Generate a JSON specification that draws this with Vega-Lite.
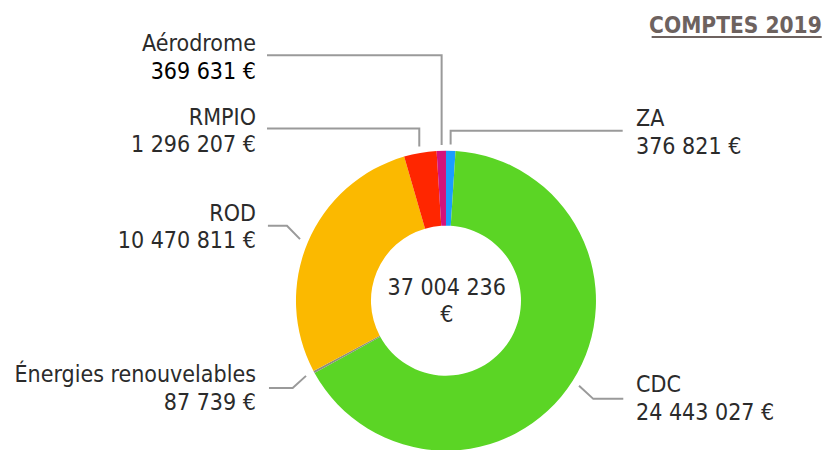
{
  "$schema": "https://vega.github.io/schema/vega-lite/v6.json",
  "width": 824,
  "height": 450,
  "padding": 0,
  "autosize": {"type": "fit", "contains": "padding"},
  "background": "#ffffff",
  "config": {
    "view": {"stroke": null},
    "locale": {"number": {"decimal": ",", "thousands": " ", "grouping": [3], "currency": ["", " €"]}},
    "text": {"font": "DejaVu Sans Condensed, DejaVu Sans, Open Sans", "fontSize": 23, "color": "#2b2b2b"}
  },
  "datasets": {
    "budget": [
      {"poste": "ZA", "montant": 376821, "rang": 1},
      {"poste": "CDC", "montant": 24443027, "rang": 2},
      {"poste": "Énergies renouvelables", "montant": 87739, "rang": 3},
      {"poste": "ROD", "montant": 10470811, "rang": 4},
      {"poste": "RMPIO", "montant": 1296207, "rang": 5},
      {"poste": "Aérodrome", "montant": 369631, "rang": 6}
    ],
    "etiquettes": [
      {"poste": "Aérodrome", "lx": -1.267, "ly": 1.682},
      {"poste": "RMPIO", "lx": -1.267, "ly": 1.187},
      {"poste": "ZA", "lx": 1.267, "ly": 1.178},
      {"poste": "ROD", "lx": -1.267, "ly": 0.538},
      {"poste": "Énergies renouvelables", "lx": -1.267, "ly": -0.551},
      {"poste": "CDC", "lx": 1.267, "ly": -0.613}
    ],
    "traits": [
      {"poste": "Aérodrome", "i": 0, "x": -1.193, "y": 1.655},
      {"poste": "Aérodrome", "i": 1, "x": -0.029, "y": 1.655},
      {"poste": "Aérodrome", "i": 2, "x": -0.029, "y": 1.049},
      {"poste": "RMPIO", "i": 0, "x": -1.193, "y": 1.16},
      {"poste": "RMPIO", "i": 1, "x": -0.178, "y": 1.16},
      {"poste": "RMPIO", "i": 2, "x": -0.178, "y": 1.04},
      {"poste": "ZA", "i": 0, "x": 0.031, "y": 1.053},
      {"poste": "ZA", "i": 1, "x": 0.031, "y": 1.145},
      {"poste": "ZA", "i": 2, "x": 1.178, "y": 1.145},
      {"poste": "ROD", "i": 0, "x": -1.187, "y": 0.505},
      {"poste": "ROD", "i": 1, "x": -1.06, "y": 0.505},
      {"poste": "ROD", "i": 2, "x": -0.973, "y": 0.415},
      {"poste": "Énergies renouvelables", "i": 0, "x": -1.18, "y": -0.589},
      {"poste": "Énergies renouvelables", "i": 1, "x": -1.022, "y": -0.589},
      {"poste": "Énergies renouvelables", "i": 2, "x": -0.933, "y": -0.507},
      {"poste": "CDC", "i": 0, "x": 0.887, "y": -0.573},
      {"poste": "CDC", "i": 1, "x": 0.982, "y": -0.662},
      {"poste": "CDC", "i": 2, "x": 1.182, "y": -0.662}
    ],
    "titre": [
      {"texte": "COMPTES 2019", "x": 2.505, "y": 1.805, "x1": 1.371, "y1": 1.778}
    ],
    "total": [
      {"texte": "37 004 236", "x": 0.005, "y": 0.038},
      {"texte": "€", "x": 0.005, "y": -0.147}
    ]
  },
  "layer": [
    {
      "data": {"name": "budget"},
      "mark": {"type": "arc", "outerRadius": 150, "innerRadius": 75},
      "encoding": {
        "x": {"datum": 0, "type": "quantitative", "scale": {"domain": [-2.973, 2.52], "nice": false, "zero": false}, "axis": null},
        "y": {"datum": 0, "type": "quantitative", "scale": {"domain": [-0.973, 2.027], "nice": false, "zero": false}, "axis": null},
        "theta": {"field": "montant", "type": "quantitative", "stack": true},
        "order": {"field": "rang", "type": "quantitative"},
        "color": {
          "field": "poste", "type": "nominal", "legend": null,
          "scale": {
            "domain": ["ZA", "CDC", "Énergies renouvelables", "ROD", "RMPIO", "Aérodrome"],
            "range": ["#1a9dff", "#5bd525", "#8c9180", "#fbb900", "#ff2600", "#d3137c"]
          }
        }
      }
    },
    {
      "data": {"name": "traits"},
      "mark": {"type": "line", "color": "#9a9a9a", "strokeWidth": 2},
      "encoding": {
        "x": {"field": "x", "type": "quantitative"},
        "y": {"field": "y", "type": "quantitative"},
        "detail": {"field": "poste"},
        "order": {"field": "i", "type": "quantitative"}
      }
    },
    {
      "data": {"name": "budget"},
      "transform": [
        {"lookup": "poste", "from": {"data": {"name": "etiquettes"}, "key": "poste", "fields": ["lx", "ly"]}},
        {"filter": {"not": {"field": "poste", "oneOf": ["ZA", "CDC"]}}}
      ],
      "layer": [
        {
          "mark": {"type": "text", "align": "right", "baseline": "alphabetic"},
          "encoding": {
            "x": {"field": "lx", "type": "quantitative"},
            "y": {"field": "ly", "type": "quantitative"},
            "text": {"field": "poste"}
          }
        },
        {
          "mark": {"type": "text", "align": "right", "baseline": "alphabetic", "dy": 27.5},
          "encoding": {
            "x": {"field": "lx", "type": "quantitative"},
            "y": {"field": "ly", "type": "quantitative"},
            "text": {"field": "montant", "type": "quantitative", "format": "$,.0f"},
            "color": {"condition": {"test": "datum.poste === 'Aérodrome'", "value": "#000000"}, "value": "#2b2b2b"}
          }
        }
      ]
    },
    {
      "data": {"name": "budget"},
      "transform": [
        {"lookup": "poste", "from": {"data": {"name": "etiquettes"}, "key": "poste", "fields": ["lx", "ly"]}},
        {"filter": {"field": "poste", "oneOf": ["ZA", "CDC"]}}
      ],
      "layer": [
        {
          "mark": {"type": "text", "align": "left", "baseline": "alphabetic"},
          "encoding": {
            "x": {"field": "lx", "type": "quantitative"},
            "y": {"field": "ly", "type": "quantitative"},
            "text": {"field": "poste"}
          }
        },
        {
          "mark": {"type": "text", "align": "left", "baseline": "alphabetic", "dy": 28.5},
          "encoding": {
            "x": {"field": "lx", "type": "quantitative"},
            "y": {"field": "ly", "type": "quantitative"},
            "text": {"field": "montant", "type": "quantitative", "format": "$,.0f"}
          }
        }
      ]
    },
    {
      "data": {"name": "total"},
      "mark": {"type": "text", "align": "center", "baseline": "alphabetic"},
      "encoding": {
        "x": {"field": "x", "type": "quantitative"},
        "y": {"field": "y", "type": "quantitative"},
        "text": {"field": "texte"}
      }
    },
    {
      "data": {"name": "titre"},
      "layer": [
        {
          "mark": {"type": "text", "align": "right", "baseline": "alphabetic", "fontWeight": "bold", "fontSize": 22.5, "color": "#6d625f"},
          "encoding": {
            "x": {"field": "x", "type": "quantitative"},
            "y": {"field": "y", "type": "quantitative"},
            "text": {"field": "texte"}
          }
        },
        {
          "mark": {"type": "rule", "color": "#6d625f", "strokeWidth": 2},
          "encoding": {
            "x": {"field": "x1", "type": "quantitative"},
            "x2": {"field": "x"},
            "y": {"field": "y1", "type": "quantitative"}
          }
        }
      ]
    }
  ]
}
